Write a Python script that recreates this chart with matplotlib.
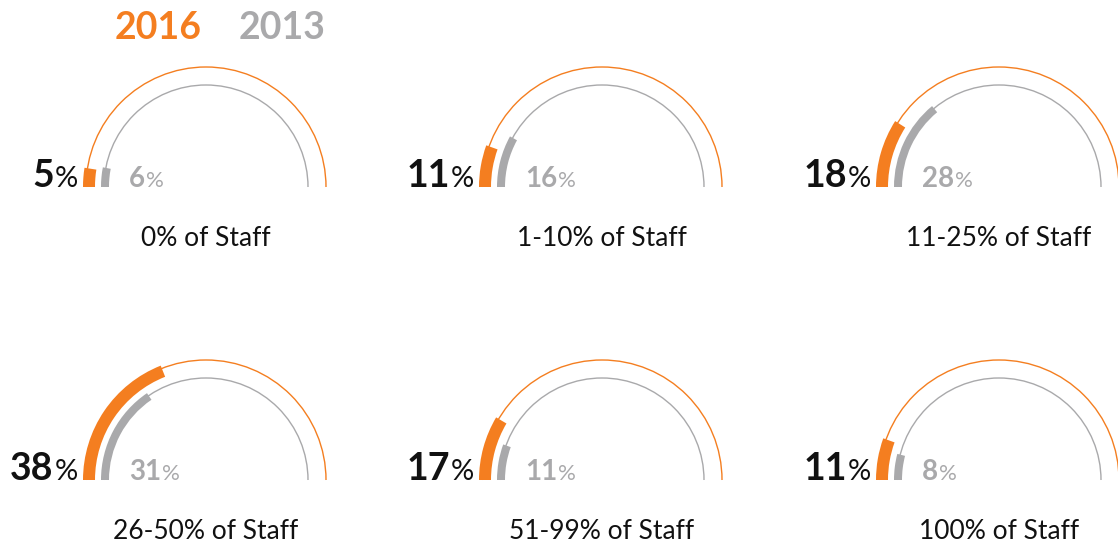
import numpy as np
import matplotlib
matplotlib.use("Agg")
import matplotlib.pyplot as plt
from matplotlib.patches import Arc, Wedge

categories = ["0% of Staff", "1-10% of Staff", "11-25% of Staff",
              "26-50% of Staff", "51-99% of Staff", "100% of Staff"]
vals_2016 = [5, 11, 18, 38, 17, 11]
vals_2013 = [6, 16, 28, 31, 11, 8]

ORANGE = "#F47E20"
GREY = "#A9A9AB"
BLACK = "#111111"
FONT = ["Lato", "DejaVu Sans"]

W, H = 1118, 546
fig = plt.figure(figsize=(W / 100, H / 100), dpi=100)
ax = fig.add_axes([0, 0, 1, 1])
ax.set_xlim(0, W)
ax.set_ylim(H, 0)
ax.set_aspect("equal")
ax.axis("off")

centers_x = [206, 602, 999]
base_y = [187, 480]
r_or, r_gr = 120, 102

renderer = fig.canvas.get_renderer()


def text_width(t):
    bb = t.get_window_extent(renderer=renderer)
    return bb.width  # pixels == data units here


for i, cat in enumerate(categories):
    cx = centers_x[i % 3]
    cy = base_y[i // 3]
    v16, v13 = vals_2016[i], vals_2013[i]

    # thin background arcs (y axis inverted, so upper half is theta 180..360)
    ax.add_patch(Arc((cx, cy), 2 * r_or, 2 * r_or, theta1=180, theta2=360,
                     color=ORANGE, lw=1.0))
    ax.add_patch(Arc((cx, cy), 2 * r_gr, 2 * r_gr, theta1=180, theta2=360,
                     color=GREY, lw=1.0))

    # thick value bars
    ax.add_patch(Wedge((cx, cy), r_or + 3, 180, 180 + v16 / 100 * 180,
                       width=12, color=ORANGE, lw=0))
    ax.add_patch(Wedge((cx, cy), r_gr + 3, 180, 180 + v13 / 100 * 180,
                       width=8, color=GREY, lw=0))

    # 2016 value: bold number + lighter %, right aligned left of the bar
    xr = cx - 128
    pct = ax.text(xr, cy, "%", ha="right", va="baseline", fontsize=21,
                  color=BLACK, family=FONT, fontweight="normal")
    wp = text_width(pct)
    ax.text(xr - wp - 1, cy, str(v16), ha="right", va="baseline", fontsize=27,
            color=BLACK, family=FONT, fontweight="bold")

    # 2013 value: grey, left aligned inside the arc
    xl = cx - 77
    num = ax.text(xl, cy, str(v13), ha="left", va="baseline", fontsize=20,
                  color=GREY, family=FONT, fontweight="bold")
    wn = text_width(num)
    ax.text(xl + wn + 1, cy, "%", ha="left", va="baseline", fontsize=16,
            color=GREY, family=FONT, fontweight="normal")

    # category label
    ax.text(cx, cy + 59, cat, ha="center", va="baseline", fontsize=19,
            color=BLACK, family=FONT, fontweight="normal")

# legend
ax.text(115, 39, "2016", ha="left", va="baseline", fontsize=27,
        color=ORANGE, family=FONT, fontweight="bold")
ax.text(239, 39, "2013", ha="left", va="baseline", fontsize=27,
        color=GREY, family=FONT, fontweight="bold")

fig.savefig("out.png", dpi=100)
